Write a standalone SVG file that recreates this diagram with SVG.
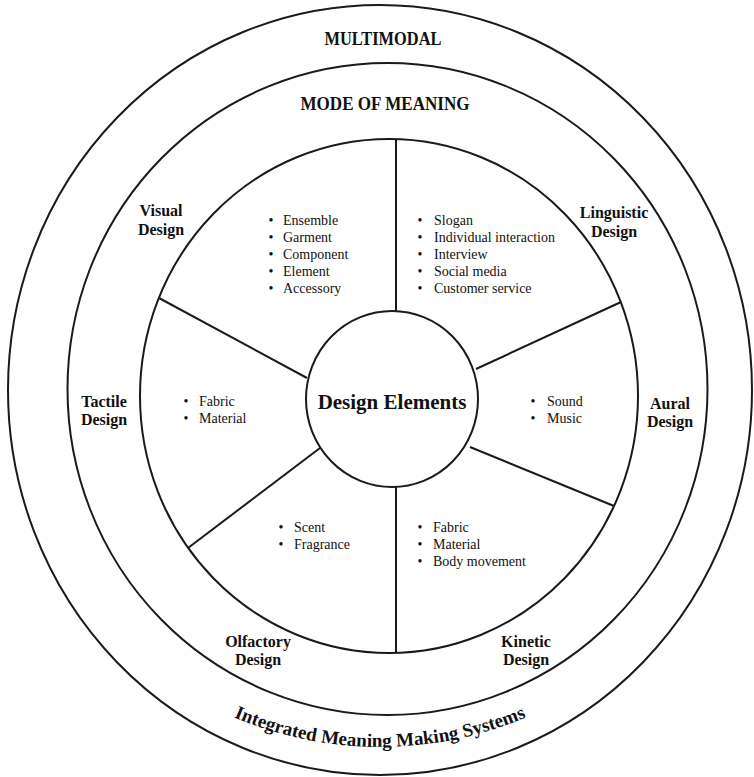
<svg xmlns="http://www.w3.org/2000/svg" width="754" height="777" viewBox="0 0 754 777">
<style>
.ring{fill:none;stroke:#1a1a1a;stroke-width:2}
.spoke{stroke:#1a1a1a;stroke-width:2;fill:none}
.ttl{font-family:"Liberation Serif","Times New Roman",serif;font-weight:bold;font-size:18px;fill:#111;text-anchor:middle}
.lbl{font-family:"Liberation Serif","Times New Roman",serif;font-weight:bold;font-size:16px;fill:#111;text-anchor:middle}
.itm{font-family:"Liberation Serif","Times New Roman",serif;font-size:14px;fill:#111}
.bul{font-family:"Liberation Serif","Times New Roman",serif;font-size:14px;fill:#111;text-anchor:middle}
.ctr{font-family:"Liberation Serif","Times New Roman",serif;font-weight:bold;font-size:21px;fill:#111;text-anchor:middle}
.arc{font-family:"Liberation Serif","Times New Roman",serif;font-weight:bold;font-size:19px;fill:#111}
</style>
<defs>
<path id="bottomArc" d="M 4 371 A 376 376 0 0 0 756 371"/>
</defs>
<rect width="754" height="777" fill="#fff"/>

<g id="multimodal">
<ellipse class="ring" cx="380" cy="390" rx="372" ry="385"/>
<text class="ttl" x="383" y="45" textLength="117" lengthAdjust="spacingAndGlyphs">MULTIMODAL</text>
<text class="arc"><textPath href="#bottomArc" startOffset="50%" text-anchor="middle">Integrated Meaning Making Systems</textPath></text>
</g>

<g id="mode-of-meaning">
<ellipse class="ring" cx="387.5" cy="389" rx="320" ry="326"/>
<text class="ttl" x="385" y="110" textLength="169" lengthAdjust="spacingAndGlyphs">MODE OF MEANING</text>
</g>

<g id="design-ring">
<ellipse class="ring" cx="389" cy="396" rx="249" ry="257"/>
</g>

<g id="connectors">
<line class="spoke" x1="396" y1="139" x2="396" y2="311"/>
<line class="spoke" x1="396" y1="487" x2="396" y2="653"/>
<line class="spoke" x1="307" y1="378" x2="159" y2="298"/>
<line class="spoke" x1="476" y1="369" x2="621" y2="302"/>
<line class="spoke" x1="320" y1="448" x2="188" y2="548"/>
<line class="spoke" x1="470" y1="447" x2="614" y2="506"/>
</g>

<g id="design-elements">
<ellipse cx="392" cy="399" rx="86" ry="88" fill="#fff" stroke="#1a1a1a" stroke-width="2"/>
<text class="ctr" x="392" y="409">Design Elements</text>
</g>

<g id="visual-design">
<text class="lbl" x="161" y="216">Visual</text>
<text class="lbl" x="161" y="235">Design</text>
<g class="bul"><text x="271" y="225">•</text><text x="271" y="242">•</text><text x="271" y="259">•</text><text x="271" y="276">•</text><text x="271" y="293">•</text></g>
<text class="itm" x="283" y="225">Ensemble</text>
<text class="itm" x="283" y="242">Garment</text>
<text class="itm" x="283" y="259">Component</text>
<text class="itm" x="283" y="276">Element</text>
<text class="itm" x="283" y="293">Accessory</text>
</g>

<g id="linguistic-design">
<text class="lbl" x="614" y="218">Linguistic</text>
<text class="lbl" x="614" y="237">Design</text>
<g class="bul"><text x="420" y="225">•</text><text x="420" y="242">•</text><text x="420" y="259">•</text><text x="420" y="276">•</text><text x="420" y="293">•</text></g>
<text class="itm" x="434" y="225">Slogan</text>
<text class="itm" x="434" y="242">Individual interaction</text>
<text class="itm" x="434" y="259">Interview</text>
<text class="itm" x="434" y="276">Social media</text>
<text class="itm" x="434" y="293">Customer service</text>
</g>

<g id="tactile-design">
<text class="lbl" x="104" y="407">Tactile</text>
<text class="lbl" x="104" y="425">Design</text>
<g class="bul"><text x="186" y="406">•</text><text x="186" y="423">•</text></g>
<text class="itm" x="199" y="406">Fabric</text>
<text class="itm" x="199" y="423">Material</text>
</g>

<g id="aural-design">
<text class="lbl" x="670" y="409">Aural</text>
<text class="lbl" x="670" y="427">Design</text>
<g class="bul"><text x="533" y="406">•</text><text x="533" y="423">•</text></g>
<text class="itm" x="547" y="406">Sound</text>
<text class="itm" x="547" y="423">Music</text>
</g>

<g id="olfactory-design">
<text class="lbl" x="258" y="647">Olfactory</text>
<text class="lbl" x="258" y="665">Design</text>
<g class="bul"><text x="281" y="532">•</text><text x="281" y="549">•</text></g>
<text class="itm" x="294" y="532">Scent</text>
<text class="itm" x="294" y="549">Fragrance</text>
</g>

<g id="kinetic-design">
<text class="lbl" x="526" y="647">Kinetic</text>
<text class="lbl" x="526" y="665">Design</text>
<g class="bul"><text x="420" y="532">•</text><text x="420" y="549">•</text><text x="420" y="566">•</text></g>
<text class="itm" x="433" y="532">Fabric</text>
<text class="itm" x="433" y="549">Material</text>
<text class="itm" x="433" y="566">Body movement</text>
</g>
</svg>
